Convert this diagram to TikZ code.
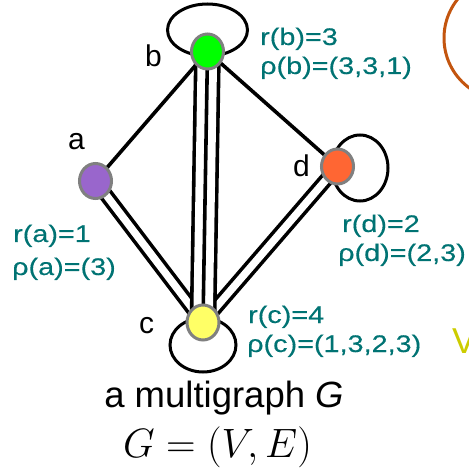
\RequirePackage{fix-cm}
\documentclass[tikz,border=0pt]{standalone}
\usepackage{fontspec}
\newfontfamily\labfont[FakeStretch=1.2,FakeBold=0.3]{Liberation Sans}
\newfontfamily\vlabfont{Liberation Sans}
\usetikzlibrary{backgrounds,shapes.geometric}
\definecolor{vgreen}{HTML}{00FF00}
\definecolor{vpurple}{HTML}{9966CC}
\definecolor{vorange}{HTML}{FF6633}
\definecolor{vyellow}{HTML}{FFFF66}
\definecolor{nodegray}{HTML}{808080}
\definecolor{labteal}{RGB}{0,115,115}
\definecolor{arcorange}{RGB}{195,85,15}
\definecolor{vyel}{RGB}{204,204,0}
\begin{document}
\begin{tikzpicture}[x=1pt,y=-1pt,
  vert/.style={ellipse, minimum width=32pt, minimum height=35pt, inner sep=0pt, draw=nodegray, line width=3pt},
  ed/.style={line width=3.6pt, draw=black},
  dbl/.style={ed, double=white, double distance=7.5pt},
  trpl/.style={ed, double=white, double distance=19.5pt},
  lp/.style={line width=3pt, draw=black},
  lab/.style={text=labteal, anchor=base west, inner sep=0pt, font=\labfont\fontsize{24}{28}\selectfont},
  vname/.style={anchor=base west, inner sep=0pt, font=\vlabfont\fontsize{30}{36}\selectfont}
]
\useasboundingbox (0,0) rectangle (469,468);
% vertices
\node[vert, fill=vgreen] (b) at (207.5,51.5) {};
\node[vert, fill=vpurple] (a) at (95.5,181) {};
\node[vert, fill=vorange] (d) at (337.5,166.5) {};
\node[vert, fill=vyellow] (c) at (203,322.5) {};
\begin{pgfonlayer}{background}
\draw[ed] (a.center) -- (b.center);
\draw[ed] (b.center) -- (d.center);
\draw[dbl] (a.center) -- (c.center);
\draw[dbl] (d.center) -- (c.center);
\draw[trpl] (b.center) -- (c.center);
\draw[ed] (b.center) -- (c.center);
\draw[lp] ([yshift=21.5pt]b.center) ellipse [x radius=40, y radius=26];
\draw[lp] ([xshift=22.5pt,yshift=-1.5pt]d.center) ellipse [x radius=28, y radius=33];
\draw[lp] ([yshift=-22.5pt]c.center) ellipse [x radius=33, y radius=27];
\end{pgfonlayer}
% vertex names
\node[vname] (la) at (68,150) {a};
\node[vname] (lb) at (145,67) {b};
\node[vname] (ld) at (293,177) {d};
\node[vname] (lc) at (139,333) {c};
% labels
\node[lab] (rb) at (260,45) {r(b)=3};
\node[lab] (pb) at (260,74) {ρ(b)=(3,3,1)};
\node[lab] (ra) at (13,242) {r(a)=1};
\node[lab] (pa) at (12,275) {ρ(a)=(3)};
\node[lab] (rd) at (342,232) {r(d)=2};
\node[lab] (pd) at (338,261) {ρ(d)=(2,3)};
\node[lab] (rc) at (248,323) {r(c)=4};
\node[lab] (pc) at (247,352) {ρ(c)=(1,3,2,3)};
% captions
\node[anchor=base, inner sep=0pt, font=\vlabfont\fontsize{36.5}{42}\selectfont] (cap) at (224,407) {a multigraph {\itshape G}};
\node[anchor=base, inner sep=0pt, font=\fontsize{41}{48}\selectfont] (eq) at (217.5,457) {$G=(V,E)$};
% cut-off parts at the right
\draw[line width=3pt, arcorange] (506,38) circle [radius=62];
\node[anchor=base west, inner sep=0pt, text=vyel, font=\vlabfont\fontsize{36}{40}\selectfont] (vv) at (452,353) {V};
\end{tikzpicture}
\end{document}
